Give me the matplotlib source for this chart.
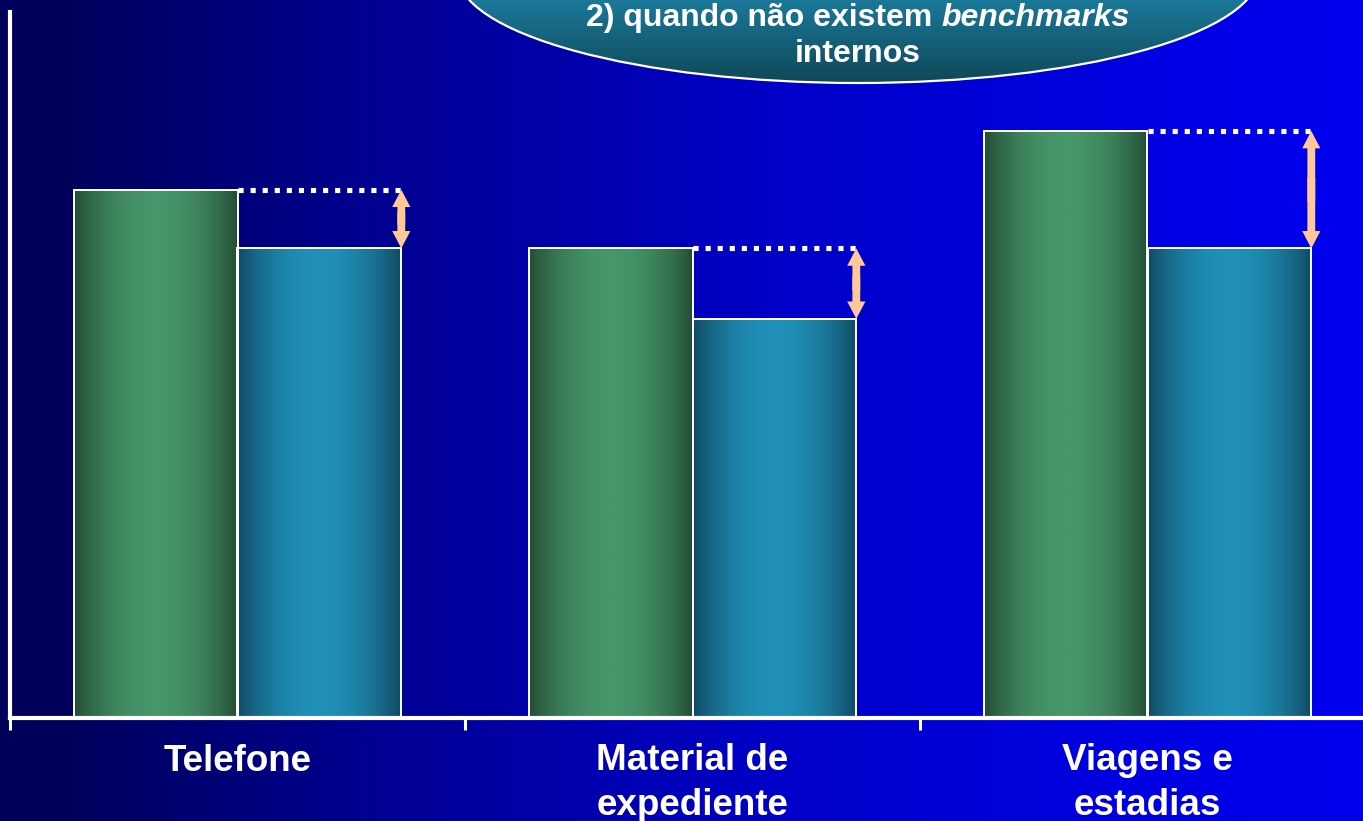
import numpy as np
import matplotlib
matplotlib.use("Agg")
import matplotlib.pyplot as plt
from matplotlib.colors import LinearSegmentedColormap
from matplotlib.patches import Ellipse

plt.rcParams["font.family"] = ["Liberation Sans", "DejaVu Sans"]

# cost per category: actual (green) vs reference (blue)
categories = ["Telefone", "Material de\nexpediente", "Viagens e\nestadias"]
actual = [90, 80, 100]
reference = [80, 68, 80]

W, H = 1363, 821
fig = plt.figure(figsize=(W / 100, H / 100), dpi=100)

# background: horizontal navy -> bright blue
bg = fig.add_axes([0, 0, 1, 1], zorder=0)
xs = np.linspace(0, 1, 600)
blue_ch = np.interp(xs, [0, 0.05, 0.25, 0.4, 0.57, 0.9, 1.0],
                    [90, 92, 140, 168, 200, 232, 238]) / 255
grad = np.zeros((2, len(xs), 3))
grad[:, :, 2] = blue_ch
bg.imshow(grad, aspect="auto", extent=(0, 1, 0, 1))
bg.set_axis_off()

# main chart area
left, right, top, bottom = 10, W, 12, 718
ax = fig.add_axes([left / W, (H - bottom) / H, (right - left) / W, (bottom - top) / H],
                  zorder=1)
ax.set_facecolor("none")

bw = 0.36
x = np.arange(len(categories))
green_cmap = LinearSegmentedColormap.from_list("g", ["#224a33", "#46966a"])
blue_cmap = LinearSegmentedColormap.from_list("b", ["#104860", "#2090b8"])

t = np.linspace(0, 1, 256)
shade = np.sin(np.pi * t) ** 0.8
shade = shade[np.newaxis, :]

bars_a = ax.bar(x + 0.5 - bw / 2, actual, bw, facecolor="none", edgecolor="white",
                linewidth=1.4, zorder=3)
bars_r = ax.bar(x + 0.5 + bw / 2, reference, bw, facecolor="none", edgecolor="white",
                linewidth=1.4, zorder=3)
for bars, cmap in [(bars_a, green_cmap), (bars_r, blue_cmap)]:
    for b in bars:
        x0, y0 = b.get_x(), b.get_y()
        ax.imshow(shade, cmap=cmap, aspect="auto", zorder=2,
                  extent=(x0, x0 + b.get_width(), y0, y0 + b.get_height()))
ax.set_xlim(0, (right - left) / 455)
ax.set_ylim(0, (bottom - top) / 5.87)

# gap markers: dotted level of actual, double arrow down to reference
peach = "#ffc896"
for i in range(len(categories)):
    xa = i + 0.5
    xr = i + 0.5 + bw
    ax.plot([xa, xr], [actual[i], actual[i]], color="white", lw=3.7,
            linestyle=(0, (1, 1.35)), dash_capstyle="butt", zorder=4)
    # two single-headed arrows overlapping in the middle make one double arrow
    for end, other in ((actual[i], reference[i]), (reference[i], actual[i])):
        start = end + 0.6 * (other - end)
        ax.annotate("", xy=(xr, end), xytext=(xr, start),
                    arrowprops=dict(arrowstyle="simple,head_length=1.0,head_width=1.05,tail_width=0.45",
                                    mutation_scale=12.5, color=peach, lw=0,
                                    shrinkA=0, shrinkB=0), zorder=5)

for s in ["top", "right"]:
    ax.spines[s].set_visible(False)
for s in ["left", "bottom"]:
    ax.spines[s].set_color("white")
    ax.spines[s].set_linewidth(3)
ax.set_yticks([])
ax.set_xticks(np.arange(len(categories)))
ax.set_xticklabels([])
ax.tick_params(axis="x", direction="out", length=8.5, width=2.2, color="white")

# category names: first baseline 53 px under the axis, 44 px between lines
for i, name in enumerate(categories):
    n_lines = name.count("\n") + 1
    dy = 38.2 + (n_lines - 1) * 44 * 0.72
    ax.annotate(name, xy=(i + 0.5, 0), xycoords=("data", "axes fraction"),
                xytext=(0, -dy), textcoords="offset points",
                ha="center", va="baseline", color="white", fontsize=26.5,
                fontweight="bold", linespacing=1.36, annotation_clip=False)

# title bubble
ov = fig.add_axes([0, 0, 1, 1], zorder=6)
ov.set_axis_off()
ov.patch.set_alpha(0)
cx, cy, ew, eh = 858, -27, 802, 220
ell = Ellipse((cx, cy), ew, eh, facecolor="none", edgecolor="white", lw=1.6, zorder=3)
ov.add_patch(ell)
vy = np.linspace(0, 1, 256)[:, np.newaxis]
bubble_cmap = LinearSegmentedColormap.from_list("bub", ["#2192bb", "#1f88ae", "#0f4858"])
img = ov.imshow(vy, cmap=bubble_cmap, aspect="auto", zorder=2,
                extent=(cx - ew / 2, cx + ew / 2, cy + eh / 2, cy - eh / 2))
img.set_clip_path(ell)
ov.set_xlim(0, W)
ov.set_ylim(H, 0)

renderer = fig.canvas.get_renderer()
fs = 23
p1 = ov.text(0, 26, "2) quando não existem", fontsize=fs, fontweight="bold",
             color="white", ha="left", va="baseline", zorder=4)
p2 = ov.text(0, 26, "benchmarks", fontsize=fs, fontweight="bold", fontstyle="italic",
             color="white", ha="left", va="baseline", zorder=4)
w1 = p1.get_window_extent(renderer).width
w2 = p2.get_window_extent(renderer).width
gap = 0.278 * fs / 72 * 100
x_start = cx - (w1 + gap + w2) / 2
p1.set_x(x_start)
p2.set_x(x_start + w1 + gap)
ov.text(cx, 62, "internos", fontsize=fs, fontweight="bold", color="white",
        ha="center", va="baseline", zorder=4)

fig.savefig("out.png", dpi=100)
